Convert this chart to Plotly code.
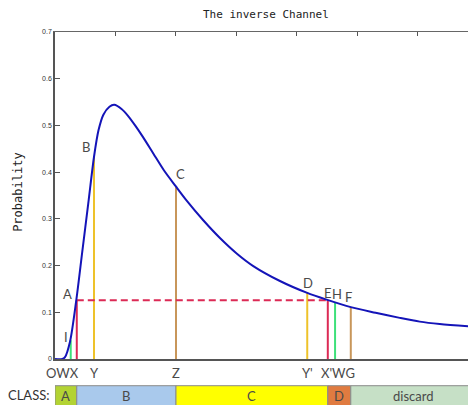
import plotly.graph_objects as go

# ---- data ----
curve_x = [0, 0.12, 0.165, 0.248, 0.352, 0.45, 0.55, 0.645, 0.72, 0.80, 0.90, 0.98,
           1.10, 1.21, 1.33, 1.45, 1.625, 1.80, 1.995, 2.177, 2.451, 2.727, 3.003, 3.278,
           3.719, 4.16, 4.49, 4.89, 5.30, 5.70, 6.03, 6.36, 6.96]
curve_y = [0, 0, 0.004, 0.037, 0.126, 0.229, 0.333, 0.433, 0.490, 0.523, 0.540, 0.544,
           0.535, 0.520, 0.499, 0.476, 0.440, 0.404, 0.370, 0.339, 0.297, 0.259, 0.226, 0.199,
           0.167, 0.142, 0.127, 0.111, 0.099, 0.088, 0.080, 0.075, 0.069]

marker_names = ["W", "X", "Y", "Z", "Y'", "X'", "W'", "G"]
marker_x = [0.26, 0.36, 0.645, 2.0, 4.17, 4.51, 4.63, 4.89]
marker_h = [0.040, 0.126, 0.433, 0.370, 0.142, 0.126, 0.121, 0.111]
marker_colors = ["#3ee07a", "#dc2a55", "#eec22a", "#c8965a", "#eec22a", "#dc2a55", "#3ee07a", "#c8965a"]

point_labels = ["A", "B", "C", "D", "E", "H", "F", "I"]
point_label_x = [0.21, 0.51, 2.07, 4.19, 4.52, 4.67, 4.86, 0.18]
point_label_y = [0.139, 0.453, 0.395, 0.162, 0.142, 0.139, 0.132, 0.048]

axis_labels = ["OWX", "Y", "Z", "Y'", "X'WG"]
axis_label_x = [0.13, 0.645, 2.0, 4.17, 4.685]

class_names = ["A", "B", "C", "D", "discard"]
class_start = [0, 0.36, 2.0, 4.51, 4.89]
class_end = [0.36, 2.0, 4.51, 4.89, 6.96]
class_colors = ["#b3d333", "#a9c9ec", "#ffff00", "#e07b40", "#c6e0c6"]

y_ticks = [0, 0.1, 0.2, 0.3, 0.4, 0.5, 0.6, 0.7]
y_ticklabels = ["0", "0.1", "0.2", "0.3", "0.4", "0.5", "0.6", "0.7"]

# ---- figure ----
fig = go.Figure()

for xm, h, c in zip(marker_x, marker_h, marker_colors):
    fig.add_trace(go.Scatter(x=[xm, xm], y=[0, h], mode="lines",
                             line=dict(color=c, width=2), hoverinfo="skip", showlegend=False))

# dashed line from X to X'
ix, ixp = marker_names.index("X"), marker_names.index("X'")
fig.add_trace(go.Scatter(x=[marker_x[ix], marker_x[ixp]], y=[marker_h[ix], marker_h[ix]],
                         mode="lines", line=dict(color="#dc2a55", width=2, dash="7px,4px"),
                         showlegend=False, hoverinfo="skip"))

fig.add_trace(go.Scatter(x=curve_x, y=curve_y, mode="lines",
                         line=dict(color="#1414b8", width=2, shape="spline", smoothing=0.8),
                         showlegend=False))

# invisible trace on top axis to activate it
fig.add_trace(go.Scatter(x=[0], y=[0], xaxis="x2", mode="markers",
                         marker=dict(opacity=0), showlegend=False, hoverinfo="skip"))

letter_font = dict(family="Lato, Noto Sans, sans-serif", size=13, color="#4a4a4a")

ann = []
for t, x, y in zip(point_labels, point_label_x, point_label_y):
    ann.append(dict(x=x, y=y, xref="x", yref="y", text=t, showarrow=False,
                    font=letter_font, xanchor="center", yanchor="middle"))

for t, x in zip(axis_labels, axis_label_x):
    ann.append(dict(x=x, y=-0.043, xref="x", yref="paper", text=t, showarrow=False,
                    font=letter_font, xanchor="center", yanchor="middle"))

shapes = []
for n, s, e, c in zip(class_names, class_start, class_end, class_colors):
    shapes.append(dict(type="rect", xref="x", yref="paper", x0=s, x1=e, y0=-0.145, y1=-0.0817,
                       fillcolor=c, line=dict(color="#8a8a8a", width=1), layer="above"))
    ann.append(dict(x=(s + e) / 2, y=-0.112, xref="x", yref="paper", text=n, showarrow=False,
                    font=letter_font, xanchor="center", yanchor="middle"))

ann.append(dict(x=-0.062, y=-0.111, xref="paper", yref="paper", text="CLASS:", showarrow=False,
                font=dict(family="Lato, Noto Sans, sans-serif", size=13, color="#333333"),
                xanchor="center", yanchor="middle"))

ann.append(dict(x=6.83, y=-0.04, xref="x", yref="paper", text="1/λ", showarrow=False,
                font=dict(family="Arial, Liberation Sans, sans-serif", size=7, color="#444444"),
                xanchor="left", yanchor="middle"))

ann.append(dict(x=0.5, y=1.052, xref="paper", yref="paper", text="The inverse Channel",
                showarrow=False, font=dict(family="DejaVu Sans Mono, monospace", size=11, color="#222222"),
                xanchor="center", yanchor="middle"))

ann.append(dict(x=-0.088, y=0.511, xref="paper", yref="paper", text="Probability",
                showarrow=False, textangle=-90,
                font=dict(family="DejaVu Sans Mono, monospace", size=12, color="#222222"),
                xanchor="center", yanchor="middle"))

fig.update_layout(
    width=468, height=397,
    margin=dict(l=47, r=0, t=24, b=46, autoexpand=False),
    paper_bgcolor="white", plot_bgcolor="white",
    xaxis=dict(range=[0, 6.96], showgrid=False, zeroline=False, showticklabels=False,
               ticks="", showline=True, linecolor="#555555", linewidth=1.5),
    xaxis2=dict(range=[0, 6.96], overlaying="x", side="top", showgrid=False, zeroline=False,
                showticklabels=False, ticks="inside", ticklen=4, tickcolor="#555555",
                dtick=1, tick0=0, showline=True, linecolor="#666666", linewidth=1),
    yaxis=dict(range=[0, 0.7], showgrid=False, zeroline=False, tickvals=y_ticks,
               ticktext=y_ticklabels, ticks="inside", ticklen=5, tickcolor="#555555",
               tickfont=dict(family="Arial, Liberation Sans, sans-serif", size=7, color="#333333"),
               showline=True, linecolor="#555555", linewidth=1.5),
    shapes=shapes,
    annotations=ann,
)

fig.write_html("out.html")
